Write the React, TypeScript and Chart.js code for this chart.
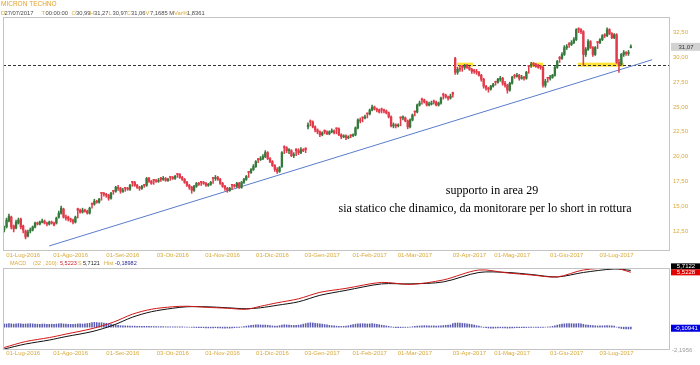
import React, { useEffect, useRef } from 'react';
import { Chart, registerables } from 'chart.js';

Chart.register(...registerables);

const SANS = '"Liberation Sans", Arial, sans-serif';
const SERIF = '"Liberation Serif", "Times New Roman", serif';
const GOLD = '#d8aa3c';
const TITLE = '#e2a22e';
const DARK = '#4a4a4a';
const GREEN = '#357a3c';
const RED = '#e23a4a';
const BORDER = '#c4c4c4';

const SLOT_COUNT = 281;

const opens = [
  12.6, 12.9, 13.5, 13.9, 13.0, 12.8, 13.3, 13.7, 13.0, 12.5,
  12.0, 12.5, 12.6, 12.9, 13.3, 13.2, 13.4, 13.5, 13.3, 13.2,
  13.4, 13.3, 13.3, 13.9, 14.3, 14.7, 13.9, 13.9, 13.7, 13.6,
  13.4, 14.75, 14.6, 14.4, 14.6, 14.5, 14.3, 15.3, 15.2, 15.5,
  15.4, 16.4, 16.3, 16.2, 16.1, 15.8, 16.6, 16.5, 16.9, 16.8,
  16.5, 16.9, 16.8, 16.7, 17.5, 17.4, 17.1, 16.9, 16.8, 17.2,
  17.1, 17.8, 17.5, 17.7, 17.6, 17.5, 17.85, 17.7, 17.8, 17.6,
  18.0, 17.9, 17.8, 18.3, 18.2, 17.9, 17.7, 17.4, 17.1, 16.9,
  16.6, 17.0, 17.3, 17.5, 17.4, 17.3, 17.1, 17.2, 17.9, 17.8,
  17.9, 17.7, 17.3, 17.0, 16.8, 16.6, 17.2, 17.1, 17.0, 17.3,
  16.9, 17.4, 17.7, 18.5, 18.4, 18.7, 19.0, 19.8, 19.7, 19.8,
  20.0, 20.4, 19.8, 19.5, 19.1, 18.7, 18.5, 19.0, 21.0, 20.9,
  20.6, 20.6, 20.1, 20.75, 20.6, 20.4, 20.7, 20.85, 23.0, 23.6,
  23.5, 23.0, 22.7, 22.5, 22.2, 22.65, 22.5, 22.3, 22.5, 22.6,
  22.85, 22.8, 22.2, 22.0, 22.1, 21.9, 22.2, 22.1, 22.2, 22.9,
  23.7, 24.0, 23.9, 24.4, 24.3, 24.7, 25.0, 24.8, 24.7, 24.8,
  24.7, 24.6, 24.4, 24.0, 23.1, 23.2, 23.1, 24.0, 23.9, 23.9,
  23.6, 23.0, 23.7, 24.6, 24.5, 25.2, 25.8, 25.7, 25.5, 25.2,
  25.3, 25.6, 25.5, 25.2, 25.4, 26.3, 26.2, 26.0, 25.9, 26.45,
  29.9, 28.5, 28.9, 29.1, 29.0, 29.2, 29.0, 28.8, 28.7, 28.6,
  28.5, 28.2, 27.8, 27.1, 26.9, 26.8, 27.1, 27.6, 27.5, 27.8,
  27.9, 27.4, 27.2, 26.7, 27.4, 28.2, 28.1, 28.2, 27.9, 28.0,
  27.9, 29.2, 29.2, 29.4, 29.3, 29.2, 29.1, 29.0, 27.2, 28.0,
  27.9, 28.0, 28.2, 29.0, 30.0, 29.9, 30.3, 31.0, 31.4, 31.3,
  31.5, 31.8, 32.9, 32.8, 32.6, 30.3, 30.8, 31.6, 31.0, 30.3,
  31.6, 31.5, 31.8, 32.3, 32.2, 32.8, 32.4, 32.0, 32.3, 29.5,
  29.3, 30.3, 30.5, 30.4, 30.99,
];

const highs = [
  13.0, 13.8, 14.2, 14.0, 13.1, 13.6, 13.8, 13.8, 13.1, 12.6,
  12.6, 12.8, 13.0, 13.4, 13.4, 13.5, 13.7, 13.6, 13.4, 13.5,
  13.5, 13.4, 13.9, 14.5, 15.0, 14.8, 14.1, 14.0, 13.8, 13.7,
  14.0, 14.8, 14.7, 14.8, 14.7, 14.6, 14.9, 15.3, 15.7, 15.6,
  15.8, 16.4, 16.4, 16.3, 16.2, 16.4, 16.6, 17.0, 17.1, 16.9,
  16.8, 16.9, 16.9, 17.2, 17.5, 17.5, 17.2, 17.0, 17.1, 17.2,
  17.9, 17.9, 17.6, 17.7, 17.7, 17.8, 17.9, 18.0, 17.9, 17.8,
  18.0, 18.0, 18.1, 18.3, 18.3, 18.0, 17.8, 17.5, 17.2, 17.0,
  17.1, 17.4, 17.4, 17.5, 17.5, 17.4, 17.3, 17.5, 17.9, 18.1,
  18.0, 17.8, 17.4, 17.1, 16.9, 16.9, 17.2, 17.2, 17.4, 17.4,
  17.5, 17.8, 18.1, 18.5, 18.8, 19.2, 19.6, 19.8, 20.0, 20.2,
  20.6, 20.5, 19.9, 19.6, 19.2, 18.9, 19.0, 20.5, 21.1, 21.0,
  20.8, 20.7, 20.4, 20.8, 20.8, 20.9, 20.8, 20.9, 23.4, 23.7,
  23.6, 23.1, 22.8, 22.6, 22.5, 22.7, 22.6, 22.6, 22.8, 22.7,
  22.9, 22.9, 22.3, 22.2, 22.2, 22.1, 22.2, 22.3, 23.0, 23.8,
  23.9, 24.0, 24.2, 24.4, 24.8, 25.2, 25.1, 24.9, 24.8, 24.9,
  24.8, 24.7, 24.5, 24.1, 23.4, 23.3, 23.3, 24.0, 24.1, 24.0,
  23.7, 23.8, 24.3, 24.6, 25.3, 25.6, 25.9, 25.8, 25.6, 25.5,
  25.6, 25.7, 25.6, 25.5, 26.0, 26.4, 26.3, 26.1, 26.3, 26.5,
  30.0, 29.0, 29.2, 29.2, 29.3, 29.3, 29.1, 28.9, 28.8, 28.8,
  28.6, 28.3, 27.9, 27.2, 27.0, 27.2, 27.4, 27.6, 27.9, 28.1,
  28.0, 27.6, 27.3, 27.5, 28.1, 28.3, 28.4, 28.3, 28.2, 28.1,
  28.6, 29.2, 29.5, 29.5, 29.4, 29.3, 29.2, 29.1, 27.8, 28.0,
  28.2, 28.3, 29.1, 29.7, 30.1, 30.5, 31.2, 31.3, 31.5, 31.7,
  32.0, 32.9, 33.0, 32.9, 32.7, 31.0, 31.8, 31.7, 31.1, 31.1,
  31.6, 31.9, 32.3, 32.4, 33.0, 32.9, 32.5, 32.4, 32.4, 29.8,
  30.4, 30.7, 30.6, 30.7, 31.27,
];

const lows = [
  12.4, 12.8, 13.4, 12.7, 12.4, 12.7, 13.2, 12.7, 12.3, 11.7,
  11.9, 12.3, 12.5, 12.8, 13.1, 13.1, 13.3, 13.2, 13.0, 13.1,
  13.2, 13.0, 13.2, 13.8, 14.2, 13.8, 13.6, 13.5, 13.4, 13.2,
  13.3, 13.8, 14.3, 14.3, 14.4, 14.2, 14.2, 14.8, 15.1, 15.3,
  15.3, 15.6, 16.0, 15.9, 15.6, 15.7, 16.2, 16.4, 16.6, 16.3,
  16.4, 16.5, 16.6, 16.6, 17.0, 17.0, 16.8, 16.6, 16.7, 16.9,
  17.0, 17.4, 17.2, 17.2, 17.4, 17.4, 17.5, 17.6, 17.5, 17.5,
  17.6, 17.7, 17.7, 17.9, 17.8, 17.6, 17.3, 17.0, 16.7, 16.3,
  16.5, 16.9, 17.1, 17.1, 17.2, 17.0, 17.0, 17.1, 17.3, 17.6,
  17.6, 17.2, 16.9, 16.6, 16.4, 16.5, 16.7, 16.9, 16.9, 16.8,
  16.8, 17.3, 17.6, 17.9, 18.3, 18.6, 18.9, 19.4, 19.6, 19.7,
  19.9, 19.7, 19.4, 19.0, 18.5, 18.3, 18.4, 18.9, 20.3, 20.4,
  20.3, 20.0, 19.9, 20.1, 20.2, 20.3, 20.5, 20.4, 22.8, 23.1,
  22.9, 22.5, 22.3, 22.0, 22.1, 22.3, 22.2, 22.2, 22.4, 22.3,
  22.3, 22.1, 21.8, 21.9, 21.7, 21.8, 21.9, 22.0, 22.1, 22.8,
  23.4, 23.5, 23.8, 23.9, 24.2, 24.6, 24.7, 24.5, 24.4, 24.4,
  24.4, 24.3, 23.9, 23.0, 22.9, 22.9, 23.0, 23.1, 23.7, 23.5,
  22.8, 22.9, 23.6, 24.1, 24.4, 25.1, 25.3, 25.4, 25.1, 25.1,
  25.2, 25.3, 25.1, 25.1, 25.3, 25.8, 25.9, 25.7, 25.8, 26.0,
  28.3, 28.3, 28.6, 28.6, 28.8, 28.9, 28.7, 28.4, 28.4, 28.3,
  28.1, 27.6, 26.9, 26.7, 26.5, 26.7, 27.0, 27.2, 27.4, 27.6,
  27.2, 27.0, 26.4, 26.6, 27.3, 27.9, 28.0, 27.7, 27.8, 27.7,
  27.8, 28.4, 29.0, 29.1, 29.0, 28.9, 28.8, 27.0, 27.0, 27.5,
  27.7, 27.9, 28.1, 28.9, 29.5, 29.8, 30.2, 30.8, 31.0, 31.2,
  31.4, 31.7, 32.5, 32.4, 29.2, 30.1, 30.7, 30.9, 30.1, 30.2,
  30.9, 31.4, 31.7, 32.0, 32.1, 32.3, 31.9, 31.9, 29.4, 28.5,
  29.2, 30.1, 30.2, 30.2, 30.97,
];

const closes = [
  12.8, 13.6, 14.0, 12.9, 12.7, 13.4, 13.6, 12.9, 12.6, 11.9,
  12.4, 12.6, 12.9, 13.3, 13.2, 13.4, 13.5, 13.3, 13.2, 13.4,
  13.3, 13.1, 13.8, 14.3, 14.8, 13.9, 13.8, 13.7, 13.6, 13.4,
  13.9, 14.6, 14.4, 14.6, 14.5, 14.3, 14.8, 15.2, 15.5, 15.4,
  15.7, 16.3, 16.2, 16.1, 15.8, 16.3, 16.5, 16.9, 16.8, 16.5,
  16.6, 16.8, 16.7, 17.1, 17.4, 17.1, 16.9, 16.8, 17.0, 17.1,
  17.8, 17.5, 17.3, 17.6, 17.5, 17.6, 17.7, 17.8, 17.6, 17.7,
  17.9, 17.8, 18.0, 18.2, 17.9, 17.7, 17.4, 17.1, 16.9, 16.6,
  17.0, 17.3, 17.2, 17.4, 17.3, 17.1, 17.2, 17.4, 17.8, 17.9,
  17.7, 17.3, 17.0, 16.8, 16.6, 16.8, 17.1, 17.0, 17.3, 16.9,
  17.4, 17.7, 18.0, 18.4, 18.7, 19.0, 19.5, 19.7, 19.8, 20.0,
  20.4, 19.8, 19.5, 19.1, 18.7, 18.5, 18.9, 20.4, 20.9, 20.6,
  20.6, 20.1, 20.2, 20.6, 20.4, 20.7, 20.6, 20.7, 23.2, 23.5,
  23.0, 22.7, 22.5, 22.2, 22.4, 22.5, 22.3, 22.5, 22.6, 22.4,
  22.8, 22.2, 22.0, 22.1, 21.9, 22.0, 22.1, 22.2, 22.9, 23.7,
  23.6, 23.9, 24.0, 24.3, 24.7, 25.0, 24.8, 24.7, 24.5, 24.7,
  24.6, 24.4, 24.0, 23.1, 23.2, 23.1, 23.2, 23.9, 23.9, 23.6,
  23.0, 23.7, 24.2, 24.5, 25.2, 25.4, 25.7, 25.5, 25.2, 25.3,
  25.4, 25.5, 25.2, 25.4, 25.9, 26.2, 26.0, 25.9, 26.1, 26.3,
  28.5, 28.8, 28.8, 29.0, 29.1, 29.0, 28.8, 28.6, 28.6, 28.5,
  28.2, 27.8, 27.1, 26.9, 26.8, 27.1, 27.3, 27.5, 27.8, 27.9,
  27.4, 27.2, 26.7, 27.4, 28.0, 28.1, 28.2, 27.9, 28.0, 27.9,
  28.5, 29.1, 29.3, 29.3, 29.1, 29.0, 29.0, 27.2, 27.6, 27.9,
  28.0, 28.2, 29.0, 29.6, 29.9, 30.3, 31.0, 31.1, 31.3, 31.5,
  31.8, 32.8, 32.8, 32.6, 30.3, 30.8, 31.6, 31.0, 30.3, 31.0,
  31.5, 31.8, 32.2, 32.2, 32.8, 32.4, 32.0, 32.3, 29.5, 29.2,
  30.3, 30.5, 30.4, 30.5, 31.07,
];

const xTickSlots = [8, 28, 50, 71, 92, 113, 134, 154, 173, 196, 214, 237, 258];
const xTickTexts = [
  '01-Lug-2016', '01-Ago-2016', '01-Set-2016', '03-Ott-2016', '01-Nov-2016', '01-Dic-2016',
  '03-Gen-2017', '01-Feb-2017', '01-Mar-2017', '03-Apr-2017', '01-Mag-2017', '01-Giu-2017', '03-Lug-2017',
];

const yTickValues = [12.5, 15, 17.5, 20, 22.5, 25, 27.5, 30, 32.5];
const yTickTexts = ['12,50', '15,00', '17,50', '20,00', '22,50', '25,00', '27,50', '30,00', '32,50'];
const priceMin = 10.58;
const priceMax = 34.08;

const supportLevel = 29.27;
const trendSlots = [19, 273];
const trendPrices = [10.99, 29.77];
const zoneStarts = [190.8, 221.5, 241.7];
const zoneEnds = [197.5, 227.0, 261.1];
const lastPrice = 31.07;
const lastPriceText = '31,07';

const noteLines = ['supporto in area 29', 'sia statico che dinamico, da monitorare per lo short in rottura'];

const macdSlots = [0, 9, 19, 26, 37, 46, 54, 62, 71, 77, 85, 94, 102, 108, 115, 124, 133, 144, 159, 171, 185, 200, 212, 222, 233, 244, 257, 264];
const macdValues = [-2.05, -1.45, -1.05, -0.7, -0.15, 0.5, 1.3, 1.8, 2.05, 2.1, 2.0, 1.9, 1.8, 2.1, 2.45, 2.85, 3.5, 3.9, 4.5, 4.3, 4.75, 5.75, 5.45, 5.25, 5.05, 5.75, 5.95, 5.52];
const signalValues = [-2.2, -1.7, -1.3, -0.95, -0.45, 0.2, 1.0, 1.55, 1.9, 2.05, 2.05, 1.95, 1.85, 1.95, 2.2, 2.55, 3.2, 3.7, 4.35, 4.35, 4.55, 5.5, 5.5, 5.3, 5.05, 5.5, 5.85, 5.71];
const histValues = [
  0.30, 0.32, 0.35, 0.33, 0.30, 0.34, 0.36, 0.33, 0.30, 0.32,
  0.34, 0.35, 0.33, 0.31, 0.30, 0.28, 0.30, 0.31, 0.29, 0.28,
  0.30, 0.29, 0.31, 0.33, 0.35, 0.32, 0.30, 0.29, 0.28, 0.27,
  0.30, 0.33, 0.32, 0.31, 0.33, 0.36, 0.40, 0.45, 0.48, 0.46,
  0.44, 0.45, 0.42, 0.38, 0.34, 0.30, 0.26, 0.22, 0.18, 0.15,
  0.14, 0.12, 0.12, 0.11, 0.10, 0.10, 0.09, 0.09, 0.08, 0.08,
  0.08, 0.07, 0.07, 0.06, 0.06, 0.05, 0.05, 0.05, 0.04, 0.04,
  0.04, 0.03, 0.03, 0.03, 0.02, 0.02, 0.01, 0.01, 0.00, -0.02,
  -0.04, -0.05, -0.06, -0.05, -0.06, -0.07, -0.08, -0.08, -0.07, -0.06,
  -0.08, -0.09, -0.10, -0.10, -0.09, -0.10, -0.08, -0.06, -0.04, -0.02,
  0.02, 0.06, 0.10, 0.14, 0.18, 0.20, 0.22, 0.24, 0.22, 0.20,
  0.21, 0.19, 0.16, 0.12, 0.10, 0.11, 0.15, 0.20, 0.24, 0.22,
  0.20, 0.18, 0.17, 0.18, 0.20, 0.24, 0.30, 0.36, 0.42, 0.44,
  0.42, 0.38, 0.36, 0.34, 0.30, 0.26, 0.22, 0.18, 0.14, 0.12,
  0.10, 0.08, 0.07, 0.08, 0.10, 0.14, 0.20, 0.25, 0.30, 0.32,
  0.34, 0.35, 0.33, 0.32, 0.33, 0.35, 0.32, 0.28, 0.24, 0.20,
  0.16, 0.12, 0.08, 0.02, -0.02, -0.05, -0.06, -0.05, -0.04, -0.03,
  -0.02, 0.00, 0.04, 0.07, 0.10, 0.12, 0.14, 0.15, 0.14, 0.13,
  0.12, 0.12, 0.11, 0.12, 0.14, 0.16, 0.18, 0.20, 0.22, 0.36,
  0.40, 0.42, 0.40, 0.38, 0.36, 0.34, 0.30, 0.25, 0.20, 0.15,
  0.10, 0.04, -0.02, -0.06, -0.09, -0.10, -0.10, -0.09, -0.08, -0.07,
  -0.08, -0.09, -0.10, -0.09, -0.08, -0.07, -0.06, -0.06, -0.05, -0.05,
  -0.04, -0.03, -0.02, -0.02, -0.03, -0.04, -0.03, -0.02, 0.00, 0.02,
  0.04, 0.08, 0.14, 0.20, 0.26, 0.30, 0.33, 0.35, 0.36, 0.35,
  0.33, 0.34, 0.36, 0.34, 0.28, 0.22, 0.20, 0.18, 0.15, 0.13,
  0.12, 0.12, 0.13, 0.14, 0.15, 0.14, 0.12, 0.10, 0.00, -0.08,
  -0.14, -0.17, -0.19, -0.19, -0.19,
];
const macdMin = -2.2;
const macdMax = 5.95;
const macdLastText = '5,5228';
const signalLast = 5.7122;
const signalLastText = '5,7122';
const histLast = -0.10941;
const histLastText = '-0,10941';
const macdBottomText = '-2,1956';

// text layout tables (text, x, colour)
const headerPieces: [string, number, string][] = [
  ['D', 1, GOLD], ['27/07/2017', 4.5, DARK], ['T', 41.5, GOLD], ['00:00:00', 45.5, DARK],
  ['O', 71.5, GOLD], ['30,99', 76, DARK], ['H', 90, GOLD], ['31,27', 94, DARK],
  ['L', 108.5, GOLD], ['30,97', 112.5, DARK], ['C', 126.5, GOLD], ['31,06', 131, DARK],
  ['V', 145.5, GOLD], ['7,1685 M', 150, DARK], ['Var%', 174, GOLD], ['1,8361', 187, DARK],
];
const macdHeaderPieces: [string, number, string][] = [
  ['MACD', 10, GOLD], ['(32 , 200):', 33, GOLD], ['5,5223', 60, '#d0202a'],
  ['S', 78, GOLD], ['5,7121', 83, '#222'], ['Hist', 104, GOLD], ['-0,18982', 115, '#2a2a90'],
];

const slotLabels = Array.from({ length: SLOT_COUNT }, (_, i) => String(i));
const tickLabelAt = (i: number) => {
  const k = xTickSlots.indexOf(i);
  return k >= 0 ? xTickTexts[k] : '';
};

const candleColors = closes.map((c, i) => (c >= opens[i] ? GREEN : RED));

const mainPlugin = {
  id: 'mainDecor',
  beforeDatasetsDraw(chart: any) {
    const { ctx, chartArea, scales } = chart;
    const xs = scales.x;
    const ys = scales.y;
    ctx.save();
    const yc = ys.getPixelForValue(supportLevel);
    ctx.fillStyle = '#ffe330';
    zoneStarts.forEach((s, i) => {
      const x1 = xs.getPixelForValue(s);
      const x2 = xs.getPixelForValue(zoneEnds[i]);
      ctx.fillRect(x1, yc - 2, x2 - x1, 4);
    });
    const yl = Math.round(yc) + 0.5;
    ctx.strokeStyle = '#333';
    ctx.lineWidth = 1;
    ctx.setLineDash([3, 2]);
    ctx.beginPath();
    ctx.moveTo(chartArea.left, yl);
    ctx.lineTo(chartArea.right, yl);
    ctx.stroke();
    ctx.setLineDash([]);
    ctx.strokeStyle = '#5a7ccc';
    ctx.beginPath();
    ctx.moveTo(xs.getPixelForValue(trendSlots[0]), ys.getPixelForValue(trendPrices[0]));
    ctx.lineTo(xs.getPixelForValue(trendSlots[1]), ys.getPixelForValue(trendPrices[1]));
    ctx.stroke();
    ctx.restore();
  },
  afterDraw(chart: any) {
    const { ctx, chartArea, scales } = chart;
    const ys = scales.y;
    ctx.save();
    ctx.strokeStyle = BORDER;
    ctx.lineWidth = 1;
    ctx.strokeRect(chartArea.left + 0.5, chartArea.top + 0.5, chartArea.right - chartArea.left - 1, chartArea.bottom - chartArea.top);
    ctx.textBaseline = 'middle';
    ctx.textAlign = 'left';
    ctx.font = `6.5px ${SANS}`;
    ctx.fillStyle = TITLE;
    ctx.fillText('MICRON TECHNO', 1, 4.5);
    ctx.font = `5.8px ${SANS}`;
    headerPieces.forEach(([t, x, c]) => {
      ctx.fillStyle = c;
      ctx.fillText(t, x, 13);
    });
    const py = ys.getPixelForValue(lastPrice);
    ctx.font = `6px ${SANS}`;
    ctx.fillStyle = '#d2d2d2';
    ctx.fillRect(chartArea.right + 1, py - 4, 29, 8);
    ctx.fillStyle = '#333';
    ctx.textAlign = 'center';
    ctx.fillText(lastPriceText, chartArea.right + 16, py);
    ctx.fillStyle = '#000';
    ctx.font = `12px ${SERIF}`;
    ctx.fillText(noteLines[0], 492, 191);
    ctx.fillText(noteLines[1], 485, 209);
    ctx.restore();
  },
};

const macdPlugin = {
  id: 'macdDecor',
  afterDraw(chart: any) {
    const { ctx, chartArea, scales } = chart;
    const ys = scales.y;
    ctx.save();
    ctx.strokeStyle = BORDER;
    ctx.lineWidth = 1;
    ctx.strokeRect(chartArea.left + 0.5, chartArea.top + 0.5, chartArea.right - chartArea.left - 1, chartArea.bottom - chartArea.top);
    ctx.textBaseline = 'middle';
    ctx.textAlign = 'left';
    ctx.font = `5.5px ${SANS}`;
    macdHeaderPieces.forEach(([t, x, c]) => {
      ctx.fillStyle = c;
      ctx.fillText(t, x, 3);
    });
    ctx.font = `6px ${SANS}`;
    const bx = chartArea.right + 1;
    const sy = ys.getPixelForValue(signalLast);
    ctx.fillStyle = '#000';
    ctx.fillRect(bx, sy - 7, 29, 6);
    ctx.fillStyle = '#e00000';
    ctx.fillRect(bx, sy - 1, 29, 6);
    const hy = ys.getPixelForValue(histLast);
    ctx.fillStyle = '#0000e0';
    ctx.fillRect(bx, hy - 3.5, 29, 7);
    ctx.fillStyle = '#fff';
    ctx.textAlign = 'center';
    ctx.fillText(signalLastText, bx + 15, sy - 4);
    ctx.fillText(macdLastText, bx + 15, sy + 2);
    ctx.fillText(histLastText, bx + 15, hy);
    ctx.fillStyle = '#9a9a9a';
    ctx.textAlign = 'left';
    ctx.fillText(macdBottomText, bx + 1, chartArea.bottom + 1);
    ctx.restore();
  },
};

function xScale(height: number, padding: number) {
  return {
    type: 'category' as const,
    offset: true,
    grid: { display: false, drawTicks: false },
    border: { display: false },
    ticks: {
      autoSkip: false,
      maxRotation: 0,
      minRotation: 0,
      padding,
      color: GOLD,
      font: { size: 6, family: SANS },
      callback: (_v: any, i: number) => tickLabelAt(i),
    },
    afterFit: (s: any) => { s.height = height; },
  };
}

export default function App() {
  const mainRef = useRef<HTMLCanvasElement>(null);
  const macdRef = useRef<HTMLCanvasElement>(null);

  useEffect(() => {
    const mainChart = new Chart(mainRef.current as HTMLCanvasElement, {
      type: 'bar',
      data: {
        labels: slotLabels,
        datasets: [
          {
            data: opens.map((o, i) => [o, closes[i]]) as any,
            backgroundColor: candleColors,
            barThickness: 1.7,
            minBarLength: 1,
            grouped: false,
            borderWidth: 0,
            order: 1,
          } as any,
          {
            data: lows.map((l, i) => [l, highs[i]]) as any,
            backgroundColor: candleColors,
            barThickness: 0.9,
            grouped: false,
            borderWidth: 0,
            order: 2,
          } as any,
        ],
      },
      options: {
        responsive: false,
        animation: false,
        devicePixelRatio: 1,
        layout: { padding: { left: 3, top: 17, right: 0, bottom: 0 } },
        plugins: { legend: { display: false }, tooltip: { enabled: false } },
        scales: {
          x: xScale(10, 2) as any,
          y: {
            position: 'right',
            min: priceMin,
            max: priceMax,
            grid: { display: false, drawTicks: false },
            border: { display: false },
            ticks: {
              padding: 3,
              color: GOLD,
              font: { size: 6, family: SANS },
              callback: (v: any) => {
                const k = yTickValues.indexOf(Number(v));
                return k >= 0 ? yTickTexts[k] : '';
              },
            },
            afterBuildTicks: (s: any) => { s.ticks = yTickValues.map((v) => ({ value: v })); },
            afterFit: (s: any) => { s.width = 30; },
          } as any,
        },
      },
      plugins: [mainPlugin],
    });

    const macdSeries: (number | null)[] = Array(SLOT_COUNT).fill(null);
    const signalSeries: (number | null)[] = Array(SLOT_COUNT).fill(null);
    macdSlots.forEach((s, i) => { macdSeries[s] = macdValues[i]; signalSeries[s] = signalValues[i]; });

    const macdChart = new Chart(macdRef.current as HTMLCanvasElement, {
      type: 'bar',
      data: {
        labels: slotLabels,
        datasets: [
          {
            type: 'line',
            data: signalSeries,
            borderColor: '#111',
            borderWidth: 1,
            pointRadius: 0,
            spanGaps: true,
            tension: 0.3,
            order: 1,
          } as any,
          {
            type: 'line',
            data: macdSeries,
            borderColor: '#d01818',
            borderWidth: 1,
            pointRadius: 0,
            spanGaps: true,
            tension: 0.3,
            order: 0,
          } as any,
          {
            type: 'bar',
            data: histValues,
            backgroundColor: '#5a5ab0',
            barThickness: 0.9,
            grouped: false,
            borderWidth: 0,
            order: 2,
          } as any,
        ],
      },
      options: {
        responsive: false,
        animation: false,
        devicePixelRatio: 1,
        layout: { padding: { left: 3, top: 8, right: 0, bottom: 0 } },
        plugins: { legend: { display: false }, tooltip: { enabled: false } },
        scales: {
          x: xScale(16, 1) as any,
          y: {
            position: 'right',
            min: macdMin,
            max: macdMax,
            grid: { display: false, drawTicks: false },
            border: { display: false },
            ticks: { display: false },
            afterFit: (s: any) => { s.width = 30; },
          } as any,
        },
      },
      plugins: [macdPlugin],
    });

    return () => {
      mainChart.destroy();
      macdChart.destroy();
    };
  }, []);

  return (
    <div style={{ position: 'fixed', left: 0, top: 0, width: 700, height: 365, background: '#fff' }}>
      <canvas ref={mainRef} width={700} height={260} style={{ position: 'absolute', left: 0, top: 0, width: 700, height: 260 }} />
      <canvas ref={macdRef} width={700} height={105} style={{ position: 'absolute', left: 0, top: 260, width: 700, height: 105 }} />
    </div>
  );
}
